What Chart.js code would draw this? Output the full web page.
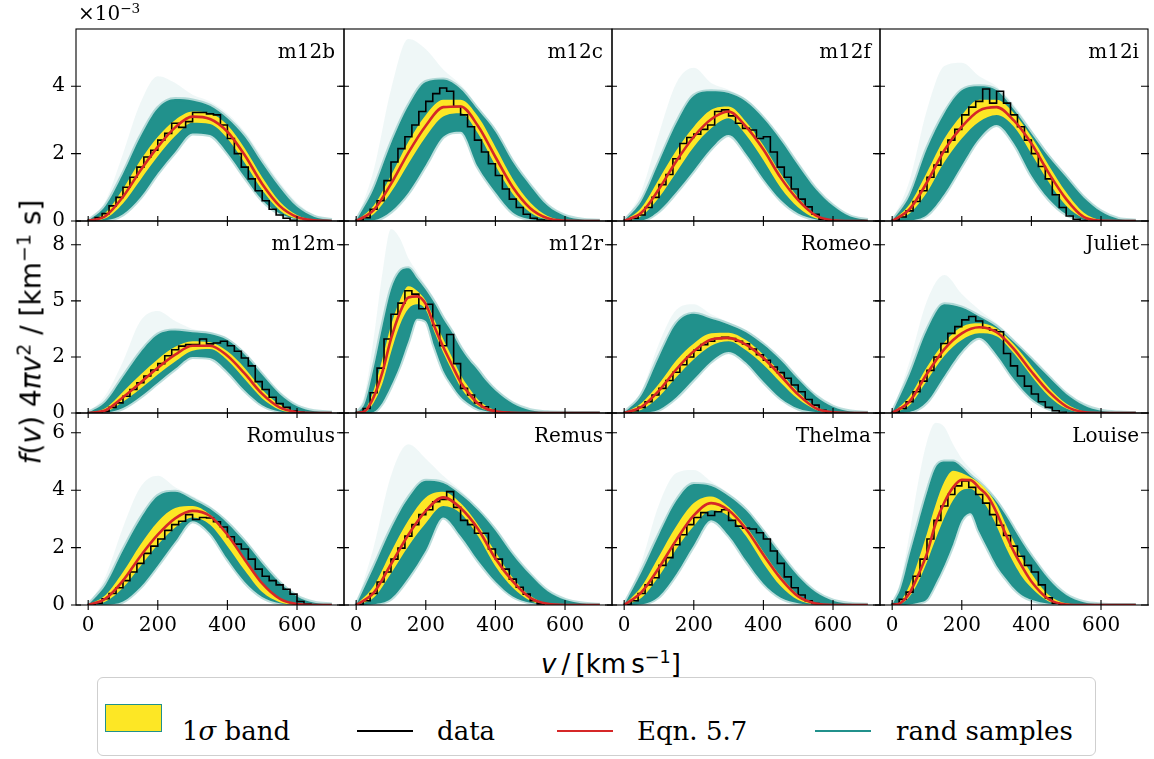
<!DOCTYPE html>
<html><head><meta charset="utf-8">
<script src="https://cdn.jsdelivr.net/npm/chart.js@4.4.1/dist/chart.umd.min.js"></script>
<style>
html,body{margin:0;padding:0;background:#fff;}
#wrap{position:relative;width:1154px;height:759px;overflow:hidden;background:#fff;}
canvas{position:absolute;}
.t{position:absolute;white-space:nowrap;color:#000;}
.sup{font-size:68%;position:relative;top:-0.55em;}
</style></head><body><div id="wrap"></div>
<script>
// ---------- shared axes ----------
const V50 = [0,50,100,150,200,250,300,350,400,450,500,550,600,650,700];
const V25 = [0,25,50,75,100,125,150,175,200,225,250,275,300,325,350,375,400,450,500,550,600,650,700];
const BIN_W = 20;
const X_TICKS = [0,200,400,600];
const ROW_Y_MAX = [5.7, 8.56, 6.69];
const ROW_Y_TICKS = [[0,2,4],[0,2.5,5,7.5],[0,2,4,6]];
const ROW_Y_LABELS = [['0','2','4'],['0','2','5','8'],['0','2','4','6']];
const NAMES = ['m12b','m12c','m12f','m12i','m12m','m12r','Romeo','Juliet','Romulus','Remus','Thelma','Louise'];

// ---------- m12b ----------
const m12b_red    = [0,0.15,0.72,1.5,2.2,2.78,3.1,3.03,2.65,1.95,1.1,0.45,0.12,0.02,0];
const m12b_bandHi = [0,0.25,0.95,1.8,2.5,3.0,3.25,3.2,2.85,2.15,1.3,0.58,0.18,0.03,0];
const m12b_bandLo = [0,0.08,0.52,1.22,1.92,2.52,2.92,2.88,2.45,1.72,0.92,0.32,0.06,0.01,0];
const m12b_sampHi = [0,0.45,1.4,2.5,3.35,3.62,3.58,3.42,3.05,2.5,1.72,1.0,0.42,0.12,0.03];
const m12b_sampLo = [0,0.02,0.2,0.7,1.42,2.05,2.6,2.55,2.02,1.3,0.62,0.22,0.05,0,0];
const m12b_faint  = [0,0.6,2.0,3.5,4.3,4.1,3.75,3.55,3.2,2.65,1.9,1.15,0.55,0.18,0.04];
const m12b_hist   = [0.02,0.1,0.22,0.45,0.7,1.0,1.3,1.6,1.9,2.1,2.4,2.6,2.9,2.78,2.95,3.22,3.22,3.18,3.15,2.85,2.45,2.0,1.6,1.25,0.9,0.6,0.35,0.18,0.08,0.02];
// ---------- m12c ----------
const m12c_red    = [0,0.32,1.1,2.03,2.83,3.38,3.4,2.82,1.9,1.0,0.38,0.08,0.01,0,0];
const m12c_bandHi = [0,0.45,1.35,2.35,3.15,3.6,3.6,3.1,2.2,1.25,0.55,0.15,0.02,0,0];
const m12c_bandLo = [0,0.2,0.85,1.7,2.5,3.1,3.2,2.6,1.65,0.8,0.25,0.04,0,0,0];
const m12c_sampHi = [0,0.95,2.3,3.42,4.13,4.2,3.92,3.3,2.65,1.75,1.05,0.45,0.15,0.04,0.01];
const m12c_sampLo = [0,0.02,0.28,0.84,1.66,2.5,2.65,1.6,0.85,0.25,0.05,0,0,0,0];
const m12c_faint  = [0,1.5,3.9,5.4,5.1,4.5,4.05,3.4,2.75,1.85,1.12,0.5,0.18,0.05,0.01];
const m12c_hist   = [0.03,0.1,0.35,0.6,1.2,1.75,2.15,2.5,2.85,3.25,3.55,3.78,3.95,3.85,3.4,3.15,2.8,2.4,2.05,1.7,1.35,0.95,0.65,0.4,0.2,0.08,0.03,0.01];
// ---------- m12f ----------
const m12f_red    = [0,0.25,0.95,1.78,2.5,3.02,3.25,2.8,2.12,1.28,0.62,0.17,0.02,0,0];
const m12f_bandHi = [0,0.4,1.25,2.1,2.8,3.3,3.4,2.95,2.25,1.4,0.7,0.2,0.03,0,0];
const m12f_bandLo = [0,0.15,0.7,1.45,2.2,2.75,3.05,2.55,1.8,0.98,0.4,0.08,0.01,0,0];
const m12f_sampHi = [0,0.6,1.75,2.9,3.72,3.85,3.8,3.55,3.05,2.4,1.65,0.95,0.45,0.13,0.03];
const m12f_sampLo = [0,0.02,0.3,0.86,1.5,2.15,2.55,2.0,1.25,0.62,0.22,0.05,0,0,0];
const m12f_faint  = [0,0.9,2.6,4.1,4.55,4.1,3.9,3.62,3.12,2.48,1.72,1.0,0.48,0.15,0.04];
const m12f_hist   = [0.02,0.08,0.18,0.4,0.7,1.08,1.38,1.85,2.3,2.48,2.58,2.72,2.85,3.25,3.3,3.12,2.9,2.75,2.7,2.45,2.5,2.05,1.6,1.3,0.95,0.65,0.42,0.2,0.05,0.01];
// ---------- m12i ----------
const m12i_red    = [0,0.35,1.15,2.1,2.8,3.28,3.38,2.98,2.3,1.42,0.65,0.12,0.01,0,0];
const m12i_bandHi = [0,0.5,1.45,2.45,3.15,3.6,3.6,3.2,2.5,1.65,0.85,0.25,0.03,0,0];
const m12i_bandLo = [0,0.22,0.85,1.75,2.45,2.95,3.15,2.8,2.0,1.15,0.45,0.08,0,0,0];
const m12i_sampHi = [0,0.75,2.15,3.2,3.88,4.0,3.88,3.3,2.6,1.9,1.3,0.7,0.28,0.06,0.01];
const m12i_sampLo = [0,0.02,0.18,0.8,1.65,2.45,2.85,2.3,1.35,0.65,0.2,0.04,0,0,0];
const m12i_faint  = [0,1.2,3.3,4.6,4.7,4.3,4.0,3.45,2.72,2.0,1.38,0.76,0.32,0.08,0.02];
const m12i_hist   = [0.02,0.12,0.3,0.58,0.9,1.3,1.66,2.05,2.4,2.72,3.15,3.38,3.55,3.92,3.5,3.85,3.5,3.15,2.8,2.4,2.0,1.62,1.25,0.78,0.4,0.15,0.05,0.01];
// ---------- m12m ----------
const m12m_red    = [0,0.12,0.7,1.35,2.02,2.6,3.0,3.0,2.55,1.75,0.85,0.25,0.04,0,0];
const m12m_bandHi = [0,0.22,0.95,1.7,2.4,2.95,3.2,3.15,2.75,2.0,1.05,0.38,0.07,0.01,0];
const m12m_bandLo = [0,0.06,0.5,1.08,1.72,2.3,2.78,2.85,2.35,1.5,0.65,0.15,0.02,0,0];
const m12m_sampHi = [0,0.5,1.6,2.7,3.5,3.68,3.6,3.52,3.25,2.6,1.7,0.85,0.3,0.08,0.02];
const m12m_sampLo = [0,0.02,0.22,0.72,1.35,1.97,2.5,2.45,1.85,1.0,0.35,0.07,0.01,0,0];
const m12m_faint  = [0,0.8,2.3,4.1,4.55,4.1,3.75,3.62,3.35,2.7,1.8,0.92,0.35,0.1,0.02];
const m12m_hist   = [0.01,0.03,0.08,0.25,0.45,0.75,1.05,1.35,1.65,1.92,2.2,2.55,2.82,2.98,3.05,3.05,3.3,3.08,3.12,3.2,3.0,2.75,2.45,2.1,1.4,1.05,0.7,0.42,0.25,0.1,0.03];
// ---------- m12r (finer grid) ----------
const m12r_red    = [0,0.08,0.7,1.8,3.3,4.45,5.15,5.2,4.85,3.85,2.95,2.15,1.38,0.85,0.42,0.18,0.08,0.01,0,0,0,0,0];
const m12r_bandHi = [0,0.15,1.0,2.4,3.9,5.0,5.65,5.45,5.0,4.15,3.3,2.5,1.7,1.1,0.6,0.3,0.12,0.02,0,0,0,0,0];
const m12r_bandLo = [0,0.04,0.45,1.3,2.7,3.9,4.65,4.85,4.6,3.6,2.7,1.9,1.15,0.65,0.3,0.12,0.04,0,0,0,0,0,0];
const m12r_sampHi = [0,0.45,2.0,3.85,5.5,6.3,6.45,6.0,5.5,4.9,4.2,3.6,2.9,2.35,1.9,1.4,1.0,0.42,0.12,0.03,0.01,0,0];
const m12r_sampLo = [0,0,0.05,0.45,1.2,2.1,3.2,4.2,4.1,2.95,1.9,1.25,0.72,0.4,0.18,0.08,0.03,0,0,0,0,0,0];
const m12r_faint  = [0,0.9,3.3,6.2,8.2,7.8,6.9,6.3,5.7,5.1,4.4,3.8,3.1,2.5,2.05,1.55,1.12,0.5,0.15,0.04,0.01,0,0];
const m12r_hist   = [0.02,0.2,0.9,2.0,3.3,4.4,4.9,5.45,5.3,4.65,4.85,3.9,3.0,3.5,2.2,1.1,0.8,0.45,0.28,0.12,0.05,0.02];
// ---------- Romeo ----------
const romeo_red    = [0,0.28,1.0,1.95,2.75,3.28,3.35,3.05,2.45,1.65,0.82,0.22,0.03,0,0];
const romeo_bandHi = [0,0.45,1.3,2.35,3.1,3.55,3.58,3.25,2.6,1.8,0.95,0.3,0.05,0,0];
const romeo_bandLo = [0,0.15,0.72,1.6,2.4,3.0,3.2,2.8,2.15,1.35,0.62,0.15,0.02,0,0];
const romeo_sampHi = [0,0.8,2.5,4.0,4.42,4.2,3.95,3.6,3.05,2.35,1.5,0.75,0.28,0.07,0.01];
const romeo_sampLo = [0,0.02,0.15,0.7,1.5,2.3,2.72,2.25,1.4,0.65,0.2,0.04,0,0,0];
const romeo_faint  = [0,1.0,3.1,4.6,4.85,4.4,4.05,3.7,3.15,2.45,1.6,0.82,0.32,0.08,0.02];
const romeo_hist   = [0.02,0.1,0.25,0.5,0.8,1.1,1.45,1.82,2.15,2.5,2.8,3.05,3.2,3.32,3.38,3.32,3.2,3.08,2.85,2.6,2.35,2.05,1.8,1.55,1.25,0.95,0.6,0.35,0.12,0.03];
// ---------- Juliet ----------
const juliet_red    = [0,0.52,1.75,2.85,3.55,3.82,3.6,2.85,1.85,0.95,0.3,0.04,0,0,0];
const juliet_bandHi = [0,0.75,2.05,3.15,3.85,4.0,3.78,3.05,2.1,1.15,0.42,0.07,0,0,0];
const juliet_bandLo = [0,0.35,1.45,2.55,3.25,3.55,3.42,2.65,1.65,0.75,0.2,0.02,0,0,0];
const juliet_sampHi = [0,1.7,3.7,4.85,4.7,4.3,3.85,3.15,2.4,1.6,0.85,0.35,0.1,0.02,0];
const juliet_sampLo = [0,0.05,0.5,1.65,2.75,3.35,2.6,1.5,0.65,0.2,0.04,0,0,0,0];
const juliet_faint  = [0,2.3,5.0,6.15,5.3,4.6,4.0,3.3,2.5,1.7,0.92,0.4,0.12,0.03,0];
const juliet_hist   = [0.03,0.2,0.5,0.95,1.42,1.9,2.5,3.1,3.55,3.85,4.15,4.3,4.1,3.8,3.7,3.62,2.65,2.1,1.65,1.2,0.85,0.5,0.25,0.1,0.03];
// ---------- Romulus ----------
const romulus_red    = [0,0.22,0.85,1.7,2.45,3.02,3.28,3.1,2.45,1.58,0.75,0.22,0.03,0,0];
const romulus_bandHi = [0,0.35,1.15,2.1,2.9,3.38,3.45,3.15,2.5,1.62,0.78,0.24,0.04,0,0];
const romulus_bandLo = [0,0.12,0.6,1.35,2.1,2.7,3.05,2.8,2.05,1.2,0.45,0.1,0.01,0,0];
const romulus_sampHi = [0,0.7,1.9,3.0,3.8,3.95,3.68,3.35,2.85,2.2,1.45,0.78,0.3,0.08,0.02];
const romulus_sampLo = [0,0.01,0.12,0.62,1.38,2.2,2.92,2.5,1.6,0.8,0.28,0.06,0,0,0];
const romulus_faint  = [0,1.0,2.7,4.1,4.5,4.1,3.8,3.45,2.95,2.3,1.55,0.85,0.35,0.1,0.02];
const romulus_hist   = [0.01,0.06,0.22,0.4,0.6,0.85,1.15,1.45,1.8,2.05,2.3,2.6,2.8,2.92,3.15,2.98,3.05,3.03,2.9,2.72,2.38,2.12,1.95,1.6,1.25,1.0,0.85,0.7,0.55,0.38,0.12,0.03];
// ---------- Remus ----------
const remus_red    = [0,0.42,1.42,2.45,3.28,3.75,3.38,2.65,1.62,0.82,0.25,0.04,0,0,0];
const remus_bandHi = [0,0.65,1.85,2.95,3.75,3.95,3.55,2.8,1.85,0.95,0.32,0.05,0,0,0];
const remus_bandLo = [0,0.25,1.1,2.05,2.85,3.45,3.2,2.4,1.35,0.6,0.15,0.02,0,0,0];
const remus_sampHi = [0,1.3,2.65,3.73,4.33,4.25,3.85,3.3,2.6,1.75,1.05,0.48,0.18,0.05,0.01];
const remus_sampLo = [0,0.03,0.22,0.95,1.9,3.05,2.4,1.55,0.82,0.3,0.08,0.01,0,0,0];
const remus_faint  = [0,2.0,4.5,5.6,5.1,4.5,4.0,3.4,2.7,1.82,1.1,0.52,0.2,0.06,0.01];
const remus_hist   = [0.02,0.15,0.4,0.8,1.15,1.6,1.98,2.4,2.8,3.15,3.32,3.6,3.68,3.95,3.4,2.95,2.8,2.5,2.5,1.95,1.6,1.25,0.9,0.62,0.38,0.15,0.04];
// ---------- Thelma ----------
const thelma_red    = [0,0.45,1.3,2.27,3.12,3.55,3.3,2.65,1.75,0.92,0.3,0.05,0,0,0];
const thelma_bandHi = [0,0.65,1.7,2.75,3.55,3.78,3.42,2.75,1.85,1.0,0.35,0.06,0,0,0];
const thelma_bandLo = [0,0.25,1.0,1.95,2.75,3.3,3.1,2.4,1.45,0.65,0.17,0.02,0,0,0];
const thelma_sampHi = [0,1.15,2.45,3.63,4.22,4.15,3.8,3.3,2.55,1.75,1.0,0.45,0.15,0.04,0.01];
const thelma_sampLo = [0,0.03,0.3,1.08,2.08,2.95,2.42,1.55,0.75,0.25,0.06,0.01,0,0,0];
const thelma_faint  = [0,1.5,3.5,4.6,4.7,4.3,3.9,3.4,2.65,1.82,1.05,0.48,0.17,0.05,0.01];
const thelma_hist   = [0.02,0.15,0.4,0.7,0.95,1.38,1.65,2.1,2.45,2.8,3.05,3.22,3.12,3.25,3.32,2.95,2.75,2.68,2.65,2.52,2.3,1.88,1.45,0.98,0.6,0.35,0.15,0.05,0.01];
// ---------- Louise (finer grid) ----------
const louise_red    = [0,0.08,0.42,1.05,1.8,2.85,3.58,4.1,4.36,4.35,4.08,3.78,3.22,2.5,1.85,1.3,0.82,0.2,0.02,0,0,0,0];
const louise_bandHi = [0,0.15,0.7,1.55,2.5,3.5,4.3,4.68,4.6,4.45,4.25,3.95,3.5,2.85,2.2,1.6,1.1,0.35,0.06,0.01,0,0,0];
const louise_bandLo = [0,0.05,0.3,0.8,1.5,2.3,3.05,3.65,4.0,4.05,3.8,3.35,2.75,2.05,1.45,0.95,0.6,0.12,0.01,0,0,0,0];
const louise_sampHi = [0,0.6,1.75,2.85,3.92,4.8,5.0,5.0,4.8,4.5,4.25,3.95,3.6,3.15,2.65,2.15,1.7,0.9,0.35,0.1,0.02,0,0];
const louise_sampLo = [0,0,0.02,0.08,0.2,0.75,1.38,2.12,2.95,3.2,2.55,1.95,1.37,0.95,0.58,0.32,0.18,0.04,0.01,0,0,0,0];
const louise_faint  = [0,0.9,2.5,4.3,5.7,6.35,6.2,5.6,5.1,4.75,4.45,4.1,3.7,3.25,2.75,2.25,1.8,0.95,0.38,0.12,0.03,0,0];
const louise_hist   = [0.03,0.2,0.45,1.0,1.6,2.3,2.95,3.45,3.85,4.15,4.32,4.1,3.85,3.55,3.15,2.78,2.42,2.05,1.7,1.38,1.15,0.7,0.25,0.06,0.01];

const PANELS = [
  [V50, m12b_red, m12b_bandHi, m12b_bandLo, m12b_sampHi, m12b_sampLo, m12b_faint, m12b_hist],
  [V50, m12c_red, m12c_bandHi, m12c_bandLo, m12c_sampHi, m12c_sampLo, m12c_faint, m12c_hist],
  [V50, m12f_red, m12f_bandHi, m12f_bandLo, m12f_sampHi, m12f_sampLo, m12f_faint, m12f_hist],
  [V50, m12i_red, m12i_bandHi, m12i_bandLo, m12i_sampHi, m12i_sampLo, m12i_faint, m12i_hist],
  [V50, m12m_red, m12m_bandHi, m12m_bandLo, m12m_sampHi, m12m_sampLo, m12m_faint, m12m_hist],
  [V25, m12r_red, m12r_bandHi, m12r_bandLo, m12r_sampHi, m12r_sampLo, m12r_faint, m12r_hist],
  [V50, romeo_red, romeo_bandHi, romeo_bandLo, romeo_sampHi, romeo_sampLo, romeo_faint, romeo_hist],
  [V50, juliet_red, juliet_bandHi, juliet_bandLo, juliet_sampHi, juliet_sampLo, juliet_faint, juliet_hist],
  [V50, romulus_red, romulus_bandHi, romulus_bandLo, romulus_sampHi, romulus_sampLo, romulus_faint, romulus_hist],
  [V50, remus_red, remus_bandHi, remus_bandLo, remus_sampHi, remus_sampLo, remus_faint, remus_hist],
  [V50, thelma_red, thelma_bandHi, thelma_bandLo, thelma_sampHi, thelma_sampLo, thelma_faint, thelma_hist],
  [V25, louise_red, louise_bandHi, louise_bandLo, louise_sampHi, louise_sampLo, louise_faint, louise_hist]
];

// ---------- layout ----------
const COL_LEFT = [76, 344, 612, 880];
const ROW_TOP = [29, 221, 413];
const PW = 268, PH = 192;
const PAD_L = 46, PAD_T = 26, PAD_R = 12, PAD_B = 40;
const TEAL = '#21918c', YELLOW = '#fde725', RED = '#d62728';
const FONT = '"DejaVu Serif", serif';

const pts = (g, a) => a.map((y, i) => ({x: g[i], y}));
function histPts(vals){
  const p = [{x:0, y:0}];
  vals.forEach((v, i) => p.push({x: i*BIN_W, y: v}));
  p.push({x: vals.length*BIN_W, y: 0});
  return p;
}

const framePlugin = {
  id: 'frame',
  afterDatasetsDraw(chart, args, o){
    const {ctx, chartArea: a, scales: {x, y}} = chart;
    ctx.save();
    ctx.strokeStyle = '#000'; ctx.lineWidth = 1.1;
    ctx.strokeRect(a.left, a.top, a.right - a.left, a.bottom - a.top);
    ctx.beginPath();
    X_TICKS.forEach(v => { const px = x.getPixelForValue(v); ctx.moveTo(px, a.bottom - 5); ctx.lineTo(px, a.bottom + 5); });
    o.yTicks.forEach(v => { const py = y.getPixelForValue(v);
      ctx.moveTo(a.left - 5, py); ctx.lineTo(a.left + 5, py);
      ctx.moveTo(a.right - 7, py); ctx.lineTo(a.right + 1, py); });
    ctx.stroke();
    ctx.fillStyle = '#000'; ctx.font = '20px ' + FONT;
    ctx.textAlign = 'right'; ctx.textBaseline = 'alphabetic';
    ctx.fillText(o.name, a.right - 9, a.top + 29);
    ctx.restore();
  }
};

const wrap = document.getElementById('wrap');
const noLine = {borderColor: 'rgba(0,0,0,0)', borderWidth: 0, pointRadius: 0, cubicInterpolationMode: 'monotone'};
const softEdge = {borderColor: 'rgba(33,145,140,0.3)', borderWidth: 4, pointRadius: 0, cubicInterpolationMode: 'monotone'};

PANELS.forEach((p, k) => {
  const col = k % 4, row = Math.floor(k / 4);
  const [g, red, bHi, bLo, sHi, sLo, fHi, hist] = p;
  const cv = document.createElement('canvas');
  const W = PW + PAD_L + PAD_R, H = PH + PAD_T + PAD_B;
  cv.width = W; cv.height = H;
  cv.style.left = (COL_LEFT[col] - PAD_L) + 'px';
  cv.style.top = (ROW_TOP[row] - PAD_T) + 'px';
  cv.style.width = W + 'px'; cv.style.height = H + 'px';
  wrap.appendChild(cv);
  const yt = ROW_Y_TICKS[row], yl = ROW_Y_LABELS[row];
  new Chart(cv, {
    type: 'line',
    data: { datasets: [
      Object.assign({data: pts(g, fHi), fill: 1, backgroundColor: 'rgba(33,145,140,0.07)', order: 4}, noLine),
      Object.assign({data: pts(g, sHi), fill: 2, backgroundColor: TEAL, order: 3}, softEdge),
      Object.assign({data: pts(g, sLo), fill: false, order: 3}, softEdge),
      Object.assign({data: pts(g, bHi), fill: 4, backgroundColor: YELLOW, order: 2}, noLine),
      Object.assign({data: pts(g, bLo), fill: false, order: 2}, noLine),
      {data: histPts(hist), stepped: true, borderColor: '#000', borderWidth: 1.6, pointRadius: 0, fill: false, order: 1},
      {data: pts(g, red), borderColor: RED, borderWidth: 2.6, pointRadius: 0, fill: false, cubicInterpolationMode: 'monotone', order: 0}
    ]},
    options: {
      responsive: false, animation: false, devicePixelRatio: 1, events: [],
      layout: {padding: {left: 0, top: PAD_T, right: PAD_R, bottom: 0}},
      plugins: {legend: {display: false}, tooltip: {enabled: false}, frame: {name: NAMES[k], yTicks: yt}},
      scales: {
        x: {type: 'linear', min: -35, max: 735,
            afterBuildTicks: s => { s.ticks = X_TICKS.map(v => ({value: v})); },
            afterFit: s => { s.height = PAD_B; },
            grid: {display: false, drawTicks: false}, border: {display: false},
            ticks: {display: row === 2, color: '#000', font: {family: FONT, size: 20}, padding: 9, maxRotation: 0, autoSkip: false}},
        y: {type: 'linear', min: 0, max: ROW_Y_MAX[row],
            afterBuildTicks: s => { s.ticks = yt.map(v => ({value: v})); },
            afterFit: s => { s.width = PAD_L; },
            grid: {display: false, drawTicks: false}, border: {display: false},
            ticks: {display: col === 0, color: '#000', font: {family: FONT, size: 20}, padding: 11,
                    callback: v => { const i = yt.indexOf(v); return i >= 0 ? yl[i] : ''; }}}
      }
    },
    plugins: [framePlugin]
  });
});

// ---------- text & legend ----------
function addDiv(html, css){ const d = document.createElement('div'); d.className = 't'; d.innerHTML = html; Object.assign(d.style, css); wrap.appendChild(d); return d; }
addDiv('×10<span class="sup">−3</span>', {left:'78px', top:'1px', font:'20px ' + FONT, lineHeight:'24px'});
addDiv('<i>f</i>(<i>v</i>) 4<i>πv</i><span class="sup">2</span> / [km<span class="sup">−1</span> s]',
  {left:'31px', top:'332px', font:'28px "DejaVu Sans", sans-serif', transform:'translate(-50%,-50%) rotate(-90deg)'});
addDiv('<i>v</i>\u2009/\u2009[km\u2009s<span class="sup">−1</span>]',
  {left:'611px', top:'664px', font:'26px "DejaVu Sans", sans-serif', transform:'translate(-50%,-50%)'});

const box = document.createElement('div');
Object.assign(box.style, {position:'absolute', left:'97px', top:'677px', width:'999px', height:'79px', border:'1.3px solid #cfcfcf', borderRadius:'6px', boxSizing:'border-box'});
wrap.appendChild(box);
const patch = document.createElement('div');
Object.assign(patch.style, {position:'absolute', left:'105px', top:'704px', width:'57px', height:'28px', background: YELLOW, border:'1.5px solid ' + TEAL, boxSizing:'border-box'});
wrap.appendChild(patch);
function legLine(x, w, color, th){ const d = document.createElement('div'); Object.assign(d.style, {position:'absolute', left:x+'px', top:(731 - th/2)+'px', width:w+'px', height:th+'px', background:color}); wrap.appendChild(d); }
legLine(357, 56, '#000', 1.6);
legLine(557, 56, RED, 2.6);
legLine(815, 56, TEAL, 1.6);
const legFont = '26px ' + FONT;
addDiv('1<i>σ</i> band', {left:'182px', top:'715px', font: legFont, lineHeight:'32px'});
addDiv('data', {left:'437px', top:'715px', font: legFont, lineHeight:'32px'});
addDiv('Eqn. 5.7', {left:'637px', top:'715px', font: legFont, lineHeight:'32px'});
addDiv('rand samples', {left:'896px', top:'715px', font: legFont, lineHeight:'32px'});
</script></body></html>
